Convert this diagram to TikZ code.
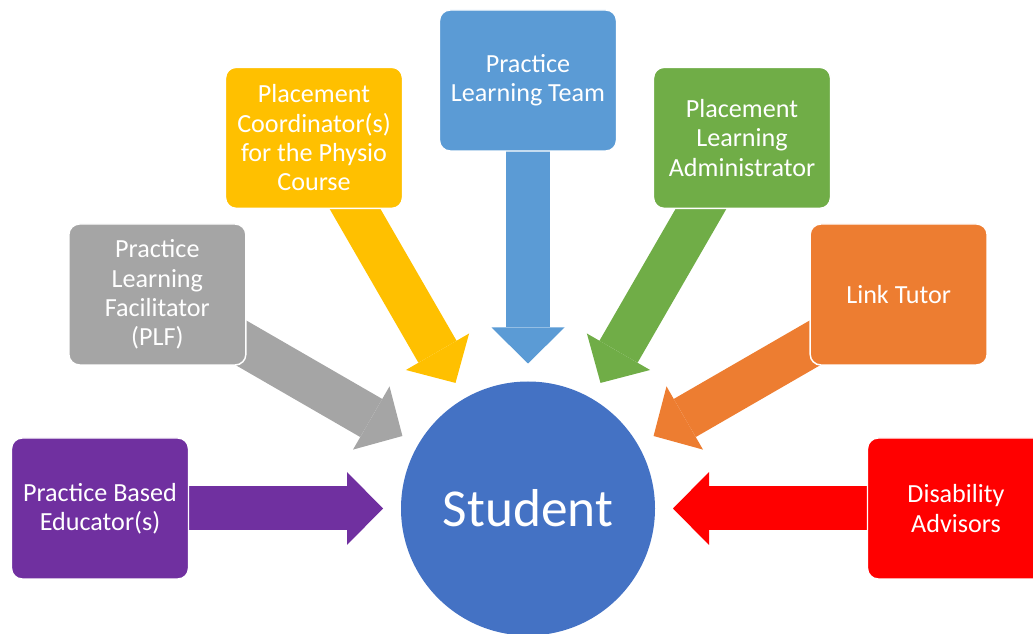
\documentclass[tikz,border=0pt]{standalone}
\usepackage{fontspec}
\setmainfont{Carlito}
\usepackage{tikz}
\usetikzlibrary{calc,arrows.meta,positioning}
\definecolor{educator}{HTML}{7030A0}
\definecolor{facil}{HTML}{A5A5A5}
\definecolor{coord}{HTML}{FFC000}
\definecolor{plteam}{HTML}{5B9BD5}
\definecolor{admin}{HTML}{70AD47}
\definecolor{tutor}{HTML}{ED7D31}
\definecolor{advisor}{HTML}{FF0000}
\definecolor{studentblue}{HTML}{4472C4}
\pgfdeclarelayer{back}
\pgfsetlayers{back,main}

\begin{document}
\begin{tikzpicture}[x=0.75pt, y=-0.75pt,
  role/.style={draw=white, line width=1.1pt, rounded corners=8pt, minimum width=132.75pt, minimum height=105.75pt, inner sep=0pt, text=white, align=center, font=\fontsize{19.6}{22}\selectfont},
  flow/.style={line width=33pt, -{Triangle[width=54.75pt, length=27pt, line width=0pt]}}]
\useasboundingbox (0,0) rectangle (1033,634);
\clip (0,0) rectangle (1033,634);
\node[circle, fill=studentblue, minimum size=190.5pt, inner sep=0pt, text=white, font=\fontsize{40}{48}\selectfont] (student) at (528,508.5) {Student};
% roles sit on a ring round the student
\node[role, fill=educator] (edu) at ($(student)+(180:321pt)$) {Practice Based\\Educator(s)};
\node[role, fill=facil] (plf) at ($(student)+(150:321pt)$) {Practice\\Learning\\Facilitator\\(PLF)};
\node[role, fill=coord] (pc) at ($(student)+(120:321pt)$) {Placement\\Coordinator(s)\\for the Physio\\Course};
\node[role, fill=plteam] (plt) at ($(student)+(90:321pt)$) {Practice\\Learning Team};
\node[role, fill=admin] (pla) at ($(student)+(60:321pt)$) {Placement\\Learning\\Administrator};
\node[role, fill=tutor] (lt) at ($(student)+(30:321pt)$) {Link Tutor};
\node[role, fill=advisor] (da) at ($(student)+(0:321pt)$) {Disability\\Advisors};
\foreach \n/\a in {edu/180, plf/150, pc/120, plt/90, pla/60, lt/30, da/0}
  \coordinate (t\n) at ($(student)+(\a:108.75pt)$);
\begin{pgfonlayer}{back}
\draw[flow, educator] (edu.center) -- (tedu);
\draw[flow, facil] (plf.center) -- (tplf);
\draw[flow, coord] (pc.center) -- (tpc);
\draw[flow, plteam] (plt.center) -- (tplt);
\draw[flow, admin] (pla.center) -- (tpla);
\draw[flow, tutor] (lt.center) -- (tlt);
\draw[flow, advisor] (da.center) -- (tda);
\end{pgfonlayer}
\end{tikzpicture}
\end{document}
